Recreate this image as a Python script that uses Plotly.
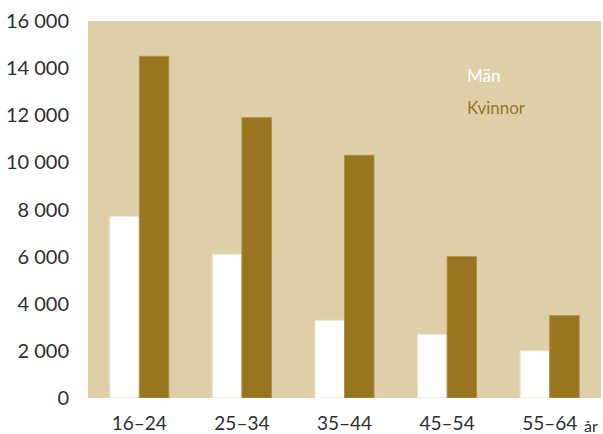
import plotly.graph_objects as go

categories = ["16–24", "25–34", "35–44", "45–54", "55–64"]
man = [7700, 6100, 3300, 2700, 2000]
kvinnor = [14500, 11900, 10300, 6000, 3500]
y_ticks = [0, 2000, 4000, 6000, 8000, 10000, 12000, 14000, 16000]

BG = "#DFCFA9"
BROWN = "#98751F"
TEXT = "#2B2F33"
FONT = "Lato"

fig = go.Figure()
fig.add_trace(go.Bar(x=categories, y=man, name="Män", marker=dict(color="white", line=dict(color="#EFE4CB", width=1))))
fig.add_trace(go.Bar(x=categories, y=kvinnor, name="Kvinnor", marker=dict(color=BROWN, line=dict(color="#B09250", width=1))))

fig.update_layout(
    width=603, height=434,
    margin=dict(l=88, r=2, t=21, b=36),
    paper_bgcolor="white",
    plot_bgcolor=BG,
    barmode="group",
    bargap=0.425,
    bargroupgap=0,
    showlegend=False,
    separators=", ",
    font=dict(family=FONT, size=20, color=TEXT),
)
fig.update_yaxes(
    range=[0, 16000], tickvals=y_ticks, tickformat=",d",
    showgrid=False, zeroline=False, showline=False, automargin=False,
    ticks="outside", ticklen=14, tickcolor="rgba(0,0,0,0)",
    tickfont=dict(family=FONT, size=20, color=TEXT),
)
fig.update_xaxes(
    showgrid=False, zeroline=False, showline=False, automargin=False,
    ticks="outside", ticklen=8, tickcolor="rgba(0,0,0,0)",
    tickfont=dict(family=FONT, size=19, color=TEXT),
)
fig.add_annotation(text="år", xref="paper", yref="paper", x=0.998, y=0, yshift=-27,
                   xanchor="right", yanchor="middle", showarrow=False,
                   font=dict(family=FONT, size=16, color=TEXT))
fig.add_annotation(text="Män", xref="paper", yref="paper", x=0.735, y=0.855,
                   xanchor="left", yanchor="middle", showarrow=False,
                   font=dict(family=FONT, size=17, color="white"))
fig.add_annotation(text="Kvinnor", xref="paper", yref="paper", x=0.735, y=0.77,
                   xanchor="left", yanchor="middle", showarrow=False,
                   font=dict(family=FONT, size=17, color=BROWN))

fig.write_html("out.html")
